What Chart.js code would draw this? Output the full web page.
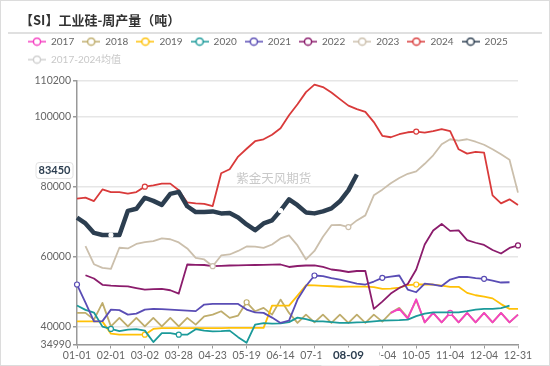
<!DOCTYPE html>
<html>
<head>
<meta charset="utf-8">
<script src="https://cdn.jsdelivr.net/npm/chart.js@4.4.1/dist/chart.umd.min.js"></script>
<style>
  html, body { margin: 0; padding: 0; background: #fff; }
</style>
</head>
<body>
<canvas id="chart" width="550" height="366"></canvas>
<script>
var categories = [
  "01-01", "01-08", "01-15", "01-22", "02-01", "02-08", "02-15", "02-22",
  "03-02", "03-08", "03-15", "03-21", "03-28", "04-04", "04-10", "04-17",
  "04-23", "04-30", "05-06", "05-13", "05-19", "05-26", "06-01", "06-07",
  "06-14", "06-20", "06-27", "07-04", "07-10", "07-18", "07-25", "08-01",
  "08-09", "08-15", "08-21", "08-28", "09-04", "09-12", "09-19", "09-26",
  "10-05", "10-12", "10-19", "10-27", "11-04", "11-11", "11-18", "11-26",
  "12-04", "12-11", "12-18", "12-24", "12-31"
];
var tickIndex = [0, 4, 8, 12, 16, 20, 24, 28, 32, 36, 40, 44, 48, 52];
var yTicks = [34990, 40000, 60000, 80000, 100000, 110200];
var pointerIndex = 32;

var years = ["2017", "2018", "2019", "2020", "2021", "2022", "2023", "2024", "2025"];
var meanLabel = "2017-2024均值";

var y2017 = [
  null, null, null, null, null, null, null, null, null, null, null, null, null, null, null, null,
  null, null, null, null, null, null, null, null, null, null, null, null, null, null, null, null,
  null, null, null, null, null, 44000, 45140, 42370, 47900, 41310, 44000, 41310, 44000, 41310,
  44000, 41310, 44000, 41310, 44000, 41310, 43510
];
var y2018 = [
  44000, 44000, 42090, 46860, 40170, 42570, 40170, 42570, 40170, 42570, 40170, 42570, 40170, 42570,
  40660, 43030, 43510, 44460, 42570, 43230, 47030, 44460, 45430, 43510, 47800, 44000, 41140, 43510,
  41310, 43510, 41140, 43510, 41140, 43510, 41140, 43510, 41510, 44000, 45430, 42660, 47600, 41310,
  44000, 41310, 44000, 41310, 44000, 41310, 44000, 41310, 44000, 41310, 43510
];
var y2019 = [
  41600, 41600, 41600, 41510, 38090, 37800, 37800, 37800, 37800, 39430, 39660, 39660, 39660, 39660,
  39660, 39660, 39660, 39660, 39720, 39720, 39720, 39720, 39720, 46090, 46090, 46090, 48940, 51890,
  51860, 51710, 51600, 51460, 51510, 51510, 51510, 51370, 50860, 50940, 51230, 51940, 52090, 52090,
  52090, 51800, 51430, 51430, 49710, 49030, 48660, 48140, 46510, 45140, 45140
];
var y2020 = [
  46090, 44860, 44090, 40090, 39430, 38800, 39230, 39370, 38940, 35700, 38230, 38230, 37800, 37800,
  39370, 38940, 38740, 38800, 38940, 37090, 35500, 40660, 41090, 40940, 41000, 41370, 42660, 42230,
  41600, 41600, 41370, 41140, 41140, 41290, 41370, 41600, 41800, 41890, 41940, 42090, 43090, 43800,
  44170, 44170, 44170, 44170, 44510, 44940, 45140, 45140, 45370, 46090, null
];
var y2021 = [
  52090, 46940, 41600, 41660, 44940, 44800, 43510, 43800, 44940, 45140, 45090, 44940, 44800, 44660,
  44510, 46370, 46570, 46570, 46570, 46570, 44940, 44170, 44000, 42660, 41140, 41800, 47800, 51660,
  54660, 54510, 53940, 53510, 52940, 52370, 52090, 52940, 54000, 54370, 54660, 50660, 49890, 52370,
  52090, 51660, 53510, 54230, 54290, 53940, 53710, 53230, 52660, 52740, null
];
var y2022 = [
  null, 54740, 53800, 52000, 51800, 51660, 51570, 51090, 50660, 50800, 50860, 50460, 49510, 57800,
  57710, 57660, 57310, 57430, 57510, 57570, 57600, 57660, 57710, 57740, 57800, 57090, 57370, 57510,
  57570, 57090, 56370, 56090, 55660, 55940, 55940, 45140, 47230, 49510, 51090, 52230, 56370, 63510,
  67510, 69370, 67370, 67510, 64740, 64000, 63370, 61940, 60940, 62510, 63230
];
var y2023 = [
  null, 63030, 57880, 56830, 56570, 62570, 62370, 63660, 64170, 64490, 65230, 65000, 64090, 62370,
  59660, 59230, 57310, 60370, 60660, 61660, 62940, 62880, 62540, 63510, 65230, 66080, 63230, 59230,
  61660, 65710, 69000, 69080, 68460, 70370, 71800, 77510, 79140, 80940, 82460, 83660, 84370, 86510,
  88940, 92080, 93510, 93140, 93510, 92800, 91940, 90660, 89230, 87660, 78290
];
var y2024 = [
  76570, 76860, 75890, 79200, 78460, 78460, 78000, 78460, 80000, 80370, 80860, 80860, 78950, 75500,
  75200, 75100, 74450, 83800, 84950, 88570, 90800, 92950, 93500, 94800, 96650, 100370, 103500, 106940,
  109100, 108400, 106850, 104940, 103100, 102100, 101300, 98400, 94500, 94080, 94940, 95500, 95700,
  95400, 95800, 96370, 95800, 90650, 89400, 89900, 89700, 77500, 75230, 76370, 74740
];
var y2025 = [
  71140, 69510, 66800, 66200, 66200, 66200, 73090, 73690, 76830, 75940, 74800, 77940, 78510, 74400,
  72740, 72800, 72940, 72370, 72510, 71220, 69220, 67590, 69510, 70370, 73170, 76370, 74710, 72650,
  72370, 72940, 73800, 75800, 78940, 83450
];
var series = [y2017, y2018, y2019, y2020, y2021, y2022, y2023, y2024, y2025];

var colors = ["#f542c2", "#bfad6c", "#ffc107", "#1b9a9a", "#5a4db5", "#8b1c6c", "#cbbfac", "#d93a3a", "#2c3e50"];
var markers = [[44], [20], [8, 40], [4, 12], [0, 28, 36, 48], [52], [16, 32], [8, 40], [4, 24]];
var drawOrder = [7, 8, 6, 5, 4, 3, 2, 1, 0];

var fontFamily = 'Lato, "Noto Sans CJK SC", sans-serif';

function makeIcon(color) {
  var c = document.createElement("canvas");
  c.width = 18;
  c.height = 10;
  var g = c.getContext("2d");
  g.strokeStyle = color;
  g.lineWidth = 1.5;
  g.beginPath();
  g.moveTo(0, 5);
  g.lineTo(18, 5);
  g.stroke();
  g.beginPath();
  g.arc(9, 5, 3.6, 0, Math.PI * 2);
  g.fillStyle = "#fff";
  g.fill();
  g.stroke();
  return c;
}

var datasets = years.map(function (yr, k) {
  return {
    label: yr,
    data: series[k],
    borderColor: colors[k],
    backgroundColor: colors[k],
    borderWidth: yr === "2025" ? 4.5 : 1.8,
    tension: 0,
    order: drawOrder[k],
    borderJoinStyle: "round",
    pointRadius: series[k].map(function (v, i) {
      return markers[k].indexOf(i) >= 0 ? (yr === "2025" ? 2 : 2.5) : 0;
    }),
    pointBackgroundColor: "#fff",
    pointBorderColor: yr === "2025" ? "#fff" : colors[k],
    pointBorderWidth: 1.2,
    pointHoverRadius: 0,
  };
});
datasets.push({ label: meanLabel, data: [], borderColor: "#d0d0d0", hidden: true, order: 9 });

var icons = datasets.map(function (ds) {
  return makeIcon(ds.label === meanLabel ? "#d0d0d0" : ds.borderColor);
});

var decor = {
  id: "decor",
  beforeDraw: function (chart) {
    var ctx = chart.ctx;
    ctx.save();
    ctx.fillStyle = "#fff";
    ctx.fillRect(0, 0, chart.width, chart.height);
    ctx.restore();
  },
  beforeDatasetsDraw: function (chart) {
    var ctx = chart.ctx;
    var a = chart.chartArea;
    ctx.save();
    ctx.fillStyle = "#c9c9c9";
    ctx.font = '12.5px "Noto Sans CJK SC", sans-serif';
    ctx.textAlign = "center";
    ctx.textBaseline = "middle";
    ctx.fillText("紫金天风期货", a.left + (a.right - a.left) * 0.446, a.top + (a.bottom - a.top) * 0.369);
    ctx.restore();
  },
  afterDraw: function (chart) {
    var ctx = chart.ctx;
    var a = chart.chartArea;
    var xs = chart.scales.x;
    var ys = chart.scales.y;
    ctx.save();
    // frame and title rule
    ctx.strokeStyle = "#dcdcdc";
    ctx.lineWidth = 1;
    ctx.strokeRect(0.5, 0.5, chart.width - 1, chart.height - 1);
    ctx.strokeStyle = "#d6d6d6";
    ctx.lineWidth = 1.5;
    ctx.beginPath();
    ctx.moveTo(8, 33);
    ctx.lineTo(542, 33);
    ctx.stroke();

    // y pointer label
    var last = y2025[y2025.length - 1];
    var py = ys.getPixelForValue(last) - 4;
    ctx.fillStyle = "#fff";
    ctx.strokeStyle = "#e2e2e2";
    ctx.lineWidth = 1;
    ctx.beginPath();
    ctx.roundRect(a.left - 41, py - 8, 37, 16, 3);
    ctx.fill();
    ctx.stroke();
    ctx.fillStyle = "#2c3e50";
    ctx.font = "bold 11px " + fontFamily;
    ctx.textAlign = "center";
    ctx.textBaseline = "middle";
    ctx.fillText(String(last), a.left - 22.5, py);

    // x pointer label
    var px = xs.getPixelForValue(pointerIndex);
    var right = xs.getPixelForValue(pointerIndex + 4) - 3;
    ctx.fillStyle = "#fff";
    ctx.fillRect(px - 27, a.bottom + 3, right - px + 27, 18);
    ctx.fillStyle = "#2c3e50";
    ctx.font = "bold 11.5px " + fontFamily;
    ctx.fillText(categories[pointerIndex], px, a.bottom + 11);
    ctx.restore();
  },
};

var ctx = document.getElementById("chart").getContext("2d");
var chart = new Chart(ctx, {
  type: "line",
  data: { labels: categories, datasets: datasets },
  options: {
    responsive: false,
    animation: false,
    events: [],
    layout: { padding: { left: 20, right: 32, top: 0, bottom: 0 } },
    plugins: {
      title: {
        display: true,
        text: "【SI】工业硅-周产量（吨）",
        align: "start",
        color: "#333",
        font: { family: '"Noto Sans CJK SC", sans-serif', size: 13, weight: "bold" },
        padding: { top: 12, bottom: 1 },
      },
      legend: {
        display: true,
        align: "start",
        labels: {
          usePointStyle: true,
          pointStyleWidth: 18,
          padding: 8,
          color: "#666",
          font: { family: fontFamily, size: 10 },
          generateLabels: function (chart) {
            return chart.data.datasets.map(function (ds, i) {
              var off = ds.label === meanLabel;
              return {
                text: ds.label,
                pointStyle: icons[i],
                fontColor: off ? "#c8c8c8" : "#666",
                hidden: false,
                datasetIndex: i,
                lineWidth: 0,
                strokeStyle: "rgba(0,0,0,0)",
                fillStyle: "rgba(0,0,0,0)",
              };
            });
          },
        },
      },
      tooltip: { enabled: false },
    },
    scales: {
      xTop: {
        axis: "x",
        position: "top",
        grid: { display: false, drawTicks: false },
        border: { display: false },
        ticks: { display: false },
        afterFit: function (s) { s.height = 6.1; },
      },
      x: {
        afterBuildTicks: function (s) {
          s.ticks = s.ticks.filter(function (t) { return tickIndex.indexOf(t.value) >= 0; });
        },
        afterFit: function (s) { s.height = 21.5; },
        ticks: {
          autoSkip: false,
          maxRotation: 0,
          color: "#666",
          padding: 1,
          font: { family: fontFamily, size: 10.5 },
        },
        grid: { drawOnChartArea: false, tickLength: 4, tickColor: "#999" },
        border: { color: "#999", width: 1.5 },
      },
      y: {
        min: 34990,
        max: 110200,
        afterBuildTicks: function (s) {
          s.ticks = yTicks.map(function (v) { return { value: v }; });
        },
        afterFit: function (s) { s.width = 57; },
        ticks: {
          autoSkip: false,
          color: "#666",
          padding: 2,
          font: { family: fontFamily, size: 10.5 },
          callback: function (v) { return String(v); },
        },
        grid: { color: "#e6e6e6", lineWidth: 1.5, tickLength: 4, tickColor: "#999" },
        border: { color: "#999", width: 1.5 },
      },
    },
  },
  plugins: [decor],
});
</script>
</body>
</html>
